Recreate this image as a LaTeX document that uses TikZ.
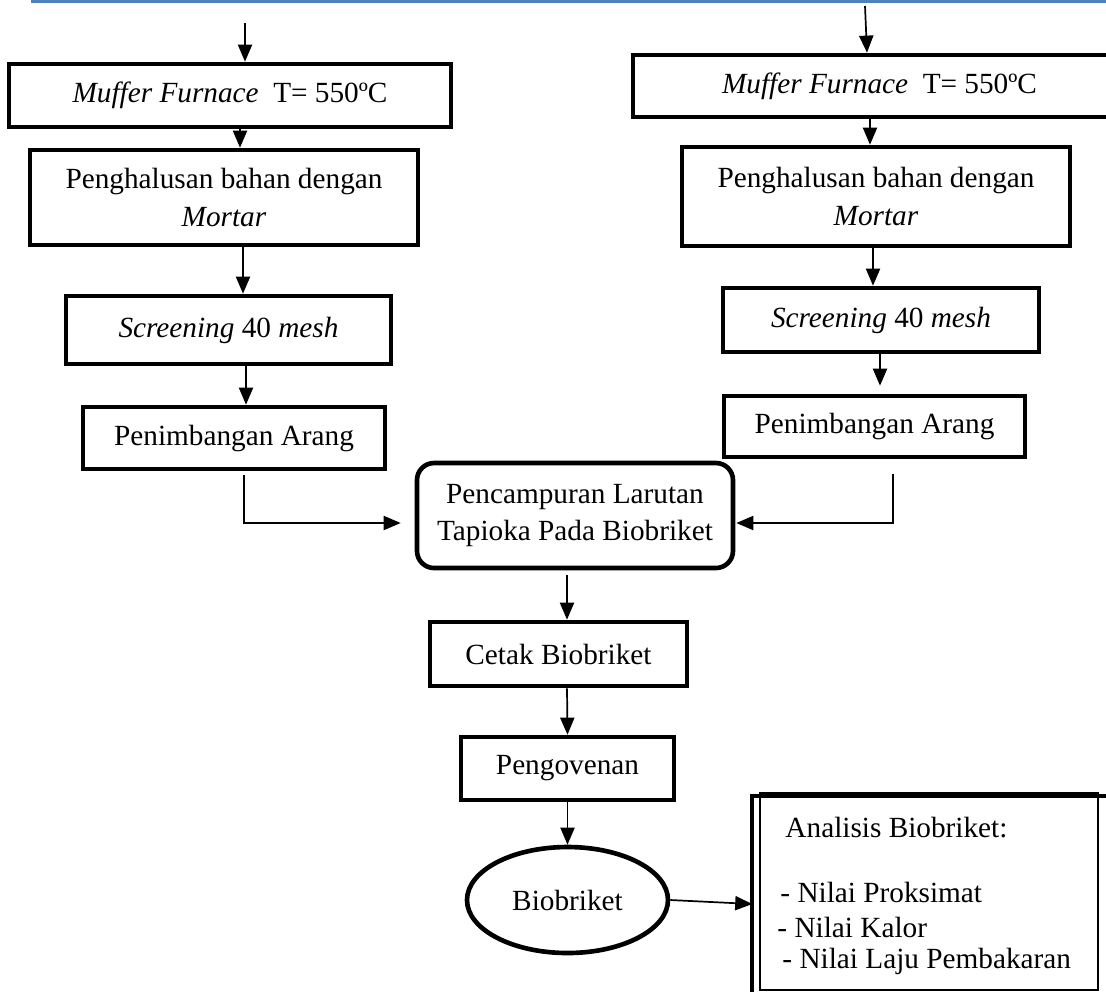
\documentclass[tikz,border=0pt]{standalone}
\usepackage{fontspec}
\setmainfont{Liberation Serif}
\usetikzlibrary{arrows.meta,shapes.geometric}
\newlength{\upx}\setlength{\upx}{0.41pt}
\definecolor{garisbiru}{RGB}{79,129,189}
\begin{document}
\begin{tikzpicture}[x=0.41pt, y=-0.41pt,
    font=\fontsize{12}{15.2}\selectfont,
    kotak/.style={draw=black, line width=1.9pt, inner sep=0pt, align=center},
    panah/.style={-{Triangle[length=7pt,width=5.8pt]}, line width=0.7pt},
    teks/.style={anchor=base west, inner sep=0pt}]
            \useasboundingbox (0,0) rectangle (1106,991);
            \draw[garisbiru, line width=1.4pt] (31,1.5) -- (1106,1.5);

            % kolom kiri
            \node[kotak, minimum width=442\upx, minimum height=63\upx] (L1) at (230,95.5) {\textit{Muffer Furnace}\ \ T= 550ºC};
            \node[kotak, minimum width=388\upx, minimum height=95\upx] (L2) at (224,197.5) {Penghalusan bahan dengan\\\textit{Mortar}};
            \node[kotak, minimum width=325\upx, minimum height=68\upx] (L3) at (228.5,330) {\textit{Screening} 40 \textit{mesh}};
            \node[kotak, minimum width=302\upx, minimum height=62\upx] (L4) at (234,438) {Penimbangan Arang};

            % kolom kanan
            \node[kotak, minimum width=493\upx, minimum height=62\upx] (R1) at (879.5,86) {\textit{Muffer Furnace}\ \ T= 550ºC};
            \node[kotak, minimum width=388\upx, minimum height=99\upx] (R2) at (876,196.5) {Penghalusan bahan dengan\\\textit{Mortar}};
            \node[kotak, minimum width=316\upx, minimum height=64\upx] (R3) at (881,320) {\textit{Screening} 40 \textit{mesh}};
            \node[kotak, minimum width=301\upx, minimum height=61\upx] (R4) at (874.5,426.5) {Penimbangan Arang};

            % tengah
            \node[kotak, rounded corners=7pt, minimum width=316\upx, minimum height=105\upx] (Mix) at (575,515.5) {Pencampuran Larutan\\Tapioka Pada Biobriket};
            \node[kotak, minimum width=257\upx, minimum height=64\upx] (Cetak) at (558.5,654) {Cetak Biobriket};
            \node[kotak, minimum width=213\upx, minimum height=63\upx] (Oven) at (567.5,768.5) {Pengovenan};
            \node[kotak, ellipse, minimum width=201\upx, minimum height=106\upx] (Bio) at (567.5,900) {Biobriket};

            % analisis
            \node[draw=black, line width=0.6pt, minimum width=338\upx, minimum height=197\upx] (An) at (929,891.5) {};
            \draw[line width=1.7pt] ([xshift=-7\upx,yshift=-4\upx]An.south west) -- ([xshift=-7\upx,yshift=-4\upx]An.north west) -- ([xshift=12\upx,yshift=-4\upx]An.north east);
            \node[teks] (an1) at (785,837) {Analisis Biobriket:};
            \node[teks] (an2) at (780,902) {- Nilai Proksimat};
            \node[teks] (an3) at (777,937) {- Nilai Kalor};
            \node[teks] (an4) at (782,968) {- Nilai Laju Pembakaran};

            \coordinate (mulaiKiri) at (245,23);
            \coordinate (mulaiKanan) at (865,6);

            \path [panah] (mulaiKiri) edge (mulaiKiri |- L1.north);
            \path [panah] ([xshift=10\upx]L1.south) edge ([xshift=16\upx]L2.north);
            \path [panah] ([xshift=19\upx]L2.south) edge ([xshift=14.5\upx]L3.north);
            \path [panah] ([xshift=17.5\upx]L3.south) edge ([xshift=12\upx]L4.north);
            \draw [panah] ([xshift=10\upx,yshift=-4\upx]L4.south) |- ([xshift=-14\upx,yshift=-7.5\upx]Mix.west);

            \path [panah] (mulaiKanan) edge ([xshift=-12.5\upx]R1.north);
            \path [panah] ([xshift=-9.5\upx]R1.south) edge ([xshift=-6\upx]R2.north);
            \path [panah] ([xshift=-3\upx]R2.south) edge ([xshift=-8\upx]R3.north);
            \path [panah] ([xshift=-1\upx]R3.south) edge ([xshift=5.5\upx,yshift=8\upx]R4.north);
            \draw [panah] ([xshift=18.5\upx,yshift=-15\upx]R4.south) |- ([xshift=1\upx,yshift=-7.5\upx]Mix.east);

            \path [panah] ([xshift=-8\upx,yshift=-5\upx]Mix.south) edge ([xshift=8.5\upx]Cetak.north);
            \path [panah] ([xshift=8.5\upx]Cetak.south) edge (Oven.north);
            \path [panah] (Oven.south) edge (Bio.north);
            \path [panah] (Bio.east) edge ([xshift=-7\upx,yshift=-12.5\upx]An.west);
        \end{tikzpicture}
\end{document}
